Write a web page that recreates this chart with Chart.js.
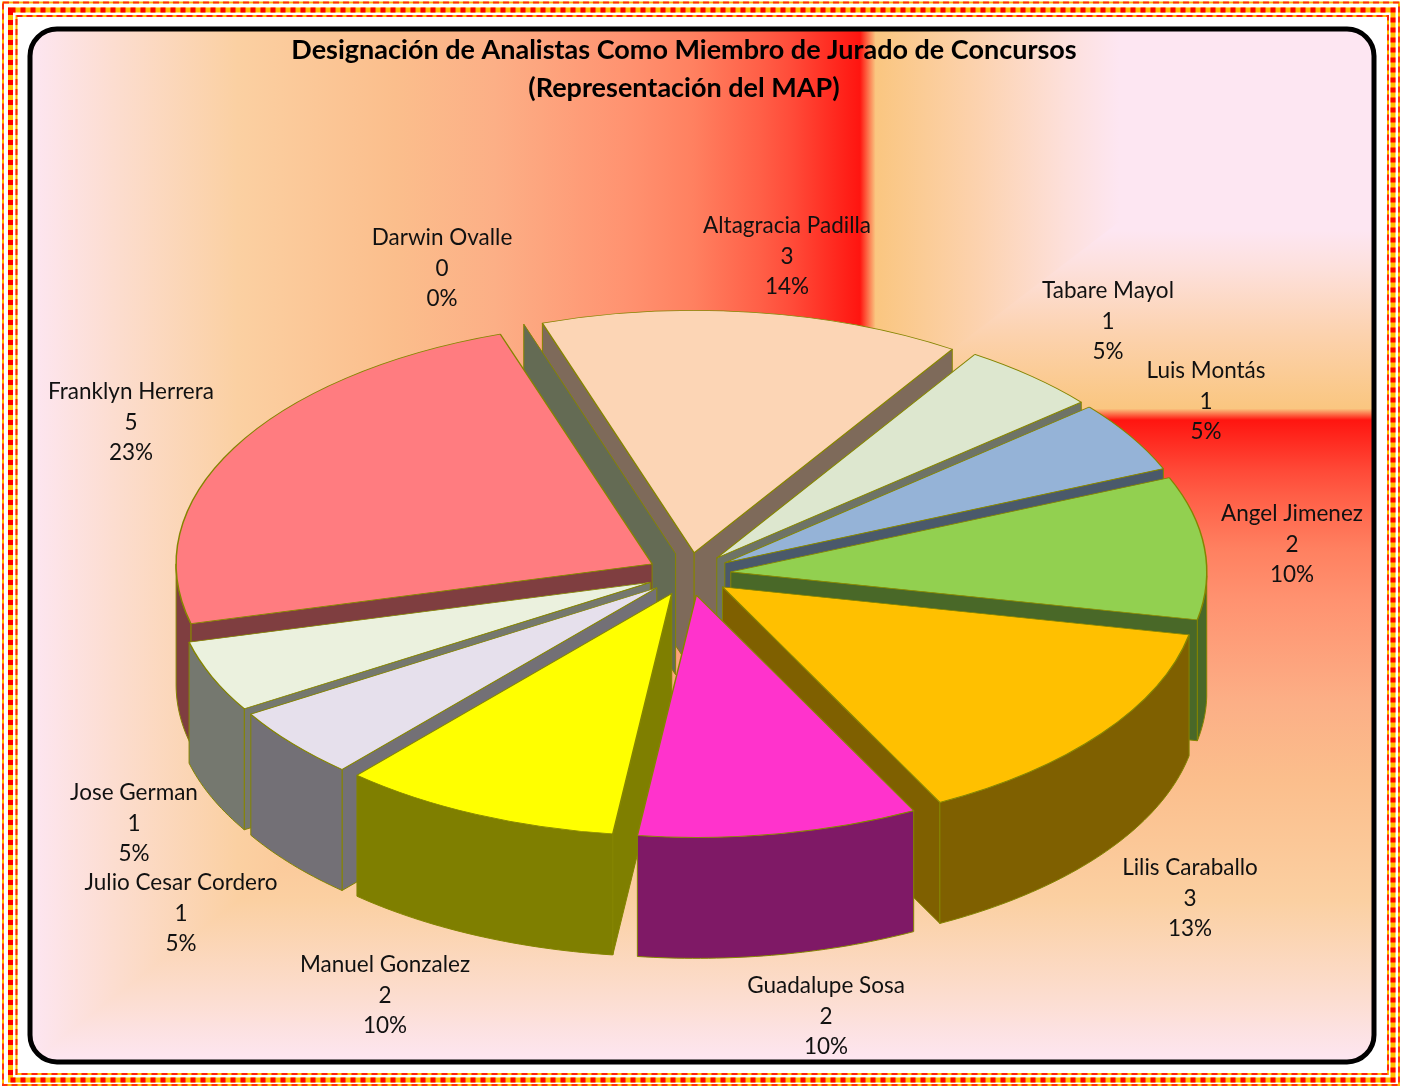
<!DOCTYPE html>
<html lang="es">
<head>
<meta charset="utf-8">
<title>Designación de Analistas</title>
<script src="https://cdn.jsdelivr.net/npm/chart.js@4"></script>
<style>
html,body{margin:0;padding:0;background:#fff;overflow:hidden}
canvas{display:block}
</style>
</head>
<body>
<canvas id="c" width="1402" height="1087"></canvas>
<script>
const titleLines = ['Designación de Analistas Como Miembro de Jurado de Concursos', '(Representación del MAP)'];
const categories = ['Altagracia Padilla','Tabare Mayol','Luis Montás','Angel Jimenez','Lilis Caraballo','Guadalupe Sosa','Manuel Gonzalez','Julio Cesar Cordero','Jose German','Franklyn Herrera','Darwin Ovalle'];
const counts = [3,1,1,2,3,2,2,1,1,5,0];
const percents = ['14%','5%','5%','10%','13%','10%','10%','5%','5%','23%','0%'];
const topColors = ['#FCD5B5','#DDE7CF','#95B3D7','#92D050','#FFC000','#FF33CC','#FFFF00','#E6E0EC','#EBF1DE','#FF7C80','#C8D6A8'];

// layout (label block centres, pie projection)
const labelCentres = [[787,226],[1108,291],[1206,371],[1292,514],[1190,868],[826,986],[385,965],[181,883],[134,793],[131,392],[442,238]];
const PIE = {cx:689, cy:574, k:0.509, depth:121, radius:476, explode:42, startDeg:-18.6};
const LINE = 30.5;
const GC = {x:860, y:420};

const warm = [[0,'#FF1510'],[.08,'#FF4A38'],[.12,'#FF5F47'],[.2,'#FF8060'],[.28,'#FF9270'],[.44,'#FCAF86'],[.56,'#FBBE8C'],[.75,'#FBD0A2'],[.9,'#FCDDD0'],[1,'#FDE6F2']];
const quick = [[0,'#FF1510'],[.06,'#FAC680'],[.45,'#FCD2AE'],[.8,'#FDE0DC'],[1,'#FDE6F2']];

function halve(hex){
  const n = parseInt(hex.slice(1),16);
  return 'rgb('+((n>>16&255)>>1)+','+((n>>8&255)>>1)+','+((n&255)>>1)+')';
}
function grad(ctx,x0,y0,x1,y1,stops){
  const g = ctx.createLinearGradient(x0,y0,x1,y1);
  stops.forEach(s=>g.addColorStop(s[0],s[1]));
  return g;
}
function poly(ctx,pts){
  ctx.beginPath();
  pts.forEach((p,i)=> i?ctx.lineTo(p[0],p[1]):ctx.moveTo(p[0],p[1]));
  ctx.closePath();
}
const backdrop = {
  id:'backdrop',
  beforeDraw(chart){
    const ctx = chart.ctx, W = chart.width, H = chart.height;
    ctx.save();
    ctx.fillStyle='#fff'; ctx.fillRect(0,0,W,H);
    const band = (x0,y0,x1,y1,lw,dash,base,col)=>{
      ctx.setLineDash([]); ctx.lineWidth=lw; ctx.strokeStyle=base; ctx.strokeRect(x0,y0,x1-x0,y1-y0);
      ctx.setLineDash(dash); ctx.strokeStyle=col; ctx.strokeRect(x0,y0,x1-x0,y1-y0);
    };
    band(3,2.5,1399,1085,2,[6,4],'#FFC000','#FF3010');
    band(10.5,10,1393,1080,5,[5,5],'#FFC000','#FF0000');
    band(16.5,16,1388,1074,2,[6,4],'#FFC000','#FF2010');
    ctx.setLineDash([]);
    const L=30,T=29,R=1374,B=1062,rad=27;
    ctx.beginPath(); ctx.roundRect(L,T,R-L,B-T,rad);
    ctx.save(); ctx.clip();
    const g=GC;
    ctx.fillStyle=grad(ctx,g.x,0,L,0,warm); ctx.fillRect(L,T,g.x-L,g.y-T);
    ctx.fillStyle=grad(ctx,0,g.y,0,B,warm); ctx.fillRect(L,g.y,R-L,B-g.y);
    ctx.fillStyle=grad(ctx,g.x,0,L,0,warm);
    poly(ctx,[[g.x,g.y],[L,B],[L,g.y]]); ctx.fill();
    ctx.fillStyle=grad(ctx,g.x,0,1120,0,quick); ctx.fillRect(g.x,T,R-g.x,g.y-T);
    ctx.fillStyle=grad(ctx,0,g.y,0,g.y-190,quick);
    poly(ctx,[[g.x,g.y],[g.x+510,g.y-390],[R,g.y-390],[R,g.y]]); ctx.fill();
    ctx.restore();
    ctx.beginPath(); ctx.roundRect(L,T,R-L,B-T,rad);
    ctx.lineWidth=5; ctx.strokeStyle='#000'; ctx.stroke();
    ctx.restore();
  }
};
const pie3d = {
  id:'pie3d',
  beforeDatasetsDraw(chart){
    const ctx = chart.ctx, arcs = chart.getDatasetMeta(0).data;
    const k = PIE.k, h = PIE.depth;
    const items = arcs.map((arc,i)=>{
      const s = arc.startAngle, e = arc.endAngle, m = (s+e)/2;
      return {arc,i,s,e,m,ox:Math.cos(m)*PIE.explode,oy:Math.sin(m)*PIE.explode,r:arc.outerRadius};
    }).sort((a,b)=>Math.sin(a.m)-Math.sin(b.m));
    items.forEach(it=>{
      const P = (a,r)=>[PIE.cx+it.ox+r*Math.cos(a), PIE.cy+k*(it.oy+r*Math.sin(a))];
      const wall = pts=>{
        const down = pts.slice().reverse().map(p=>[p[0],p[1]+h]);
        poly(ctx,pts.concat(down));
        ctx.fillStyle=halve(topColors[it.i]); ctx.fill();
        ctx.lineWidth=1; ctx.strokeStyle='#858500'; ctx.lineJoin='round'; ctx.stroke();
      };
      if(Math.sin(it.s-Math.PI/2)>0) wall([P(it.s,0),P(it.s,it.r)]);
      if(Math.sin(it.e+Math.PI/2)>0) wall([P(it.e,0),P(it.e,it.r)]);
      const front=[];
      const n=Math.max(2,Math.ceil((it.e-it.s)*60));
      for(let j=0;j<=n;j++){
        const a=it.s+(it.e-it.s)*j/n;
        if(Math.sin(a)>=0) front.push(P(a,it.r));
      }
      if(front.length>1) wall(front);
      ctx.save();
      ctx.translate(PIE.cx,PIE.cy); ctx.scale(1,k); ctx.translate(it.ox,it.oy); ctx.translate(-it.arc.x,-it.arc.y);
      it.arc.draw(ctx);
      ctx.restore();
    });
    return false;
  },
  afterDraw(chart){
    const ctx = chart.ctx;
    ctx.save();
    ctx.fillStyle='#111'; ctx.textAlign='center'; ctx.textBaseline='middle';
    ctx.font='22.5px Lato, "Liberation Sans", sans-serif';
    categories.forEach((name,i)=>{
      const c=labelCentres[i];
      [name,String(counts[i]),percents[i]].forEach((t,j)=>ctx.fillText(t,c[0],c[1]+j*LINE));
    });
    ctx.restore();
  }
};
new Chart(document.getElementById('c'),{
  type:'pie',
  data:{labels:categories,datasets:[{
    data:counts, backgroundColor:topColors, borderColor:'#858500', borderWidth:1.5,
    clip:false, radius:PIE.radius
  }]},
  options:{
    responsive:false, animation:false, events:[],
    rotation:PIE.startDeg, radius:PIE.radius,
    layout:{padding:{top:31,right:34,left:0,bottom:10}},
    plugins:{
      legend:{display:false}, tooltip:{enabled:false},
      title:{display:true,text:titleLines,color:'#000',padding:0,
        font:{family:'Lato,"Liberation Sans",sans-serif',size:27,weight:'bold',lineHeight:1.41}}
    }
  },
  plugins:[backdrop,pie3d]
});
</script>
</body>
</html>
